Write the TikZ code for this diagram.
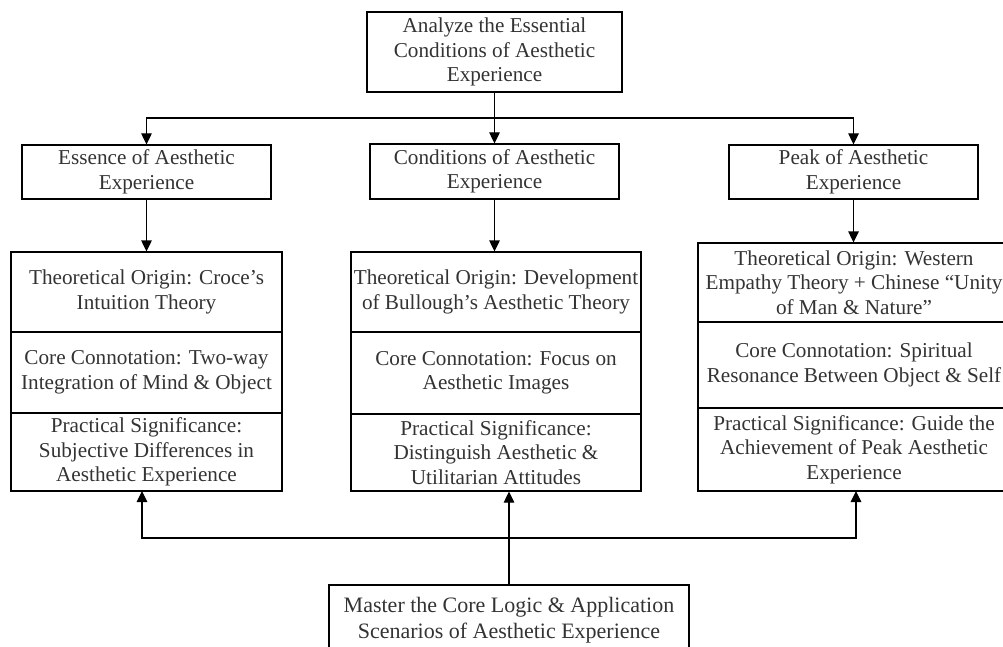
\documentclass[tikz,border=0pt]{standalone}
\usepackage{fontspec}
\setmainfont{Liberation Serif}
\usetikzlibrary{arrows.meta}
\begin{document}
\begin{tikzpicture}[x=1pt,y=-1pt,
  box/.style={draw, line width=1.2pt, inner sep=0pt, align=center, text=black!80,
    font=\fontsize{21.2}{24.5}\selectfont},
  bigbox/.style={box, font=\fontsize{22}{26}\selectfont},
  arr/.style={line width=1.2pt, -{Triangle[length=11pt,width=10.5pt]}},
  ln/.style={line width=1.2pt}]
\useasboundingbox (0,0) rectangle (1003,647);
% top
\node[box, minimum width=255, minimum height=80] (top) at (494.5,52) {Analyze the Essential\\Conditions of Aesthetic\\Experience};
% second level
\node[box, minimum width=249, minimum height=54] (ess) at (146.5,172) {Essence of Aesthetic\\Experience};
\node[box, minimum width=249, minimum height=55] (cond) at (494.5,171.5) {Conditions of Aesthetic\\Experience};
\node[box, minimum width=249, minimum height=54] (peak) at (853.5,172) {Peak of Aesthetic\\Experience};
% third level left
\node[box, minimum width=271, minimum height=80] (l1) at (146.5,292) {Theoretical Origin: Croce’s\\Intuition Theory};
\node[box, minimum width=271, minimum height=81] (l2) at (146.5,372.5) {Core Connotation: Two-way\\Integration of Mind \& Object};
\node[box, minimum width=271, minimum height=78] (l3) at (146.5,452) {Practical Significance:\\Subjective Differences in\\Aesthetic Experience};
% third level middle
\node[box, minimum width=290, minimum height=80] (m1) at (496,292) {Theoretical Origin: Development\\of Bullough’s Aesthetic Theory};
\node[box, minimum width=290, minimum height=82] (m2) at (496,373) {Core Connotation: Focus on\\Aesthetic Images};
\node[box, minimum width=290, minimum height=77] (m3) at (496,452.5) {Practical Significance:\\Distinguish Aesthetic \&\\Utilitarian Attitudes};
% third level right
\node[box, minimum width=312, minimum height=79] (r1) at (854,282.5) {Theoretical Origin: Western\\Empathy Theory + Chinese “Unity\\of Man \& Nature”};
\node[box, minimum width=312, minimum height=86] (r2) at (854,365) {Core Connotation: Spiritual\\Resonance Between Object \& Self};
\node[box, minimum width=312, minimum height=83] (r3) at (854,449.5) {Practical Significance: Guide the\\Achievement of Peak Aesthetic\\Experience};
% bottom
\node[bigbox, minimum width=360, minimum height=70] (bot) at (509,620) {Master the Core Logic \& Application\\Scenarios of Aesthetic Experience};
% connectors top
\coordinate (hub) at (494.5,118);
\draw[ln] (top.south) -- (hub);
\draw[arr] (hub) -| (ess.north);
\draw[arr] (hub) -- (cond.north);
\draw[arr] (hub) -| (peak.north);
\draw[arr] (ess.south) -- (ess.south |- l1.north);
\draw[arr] (cond.south) -- (cond.south |- m1.north);
\draw[arr] (peak.south) -- (peak.south |- r1.north);
% connectors bottom
\coordinate (bhub) at (509,538);
\coordinate (lend) at (142,491);
\coordinate (rend) at (856,491);
\draw[ln] (bot.north) -- (bhub);
\draw[arr] (bhub) -| (lend);
\draw[arr] (bhub) -| (rend);
\draw[arr] (bhub) -- (bhub |- m3.south);
\end{tikzpicture}
\end{document}
